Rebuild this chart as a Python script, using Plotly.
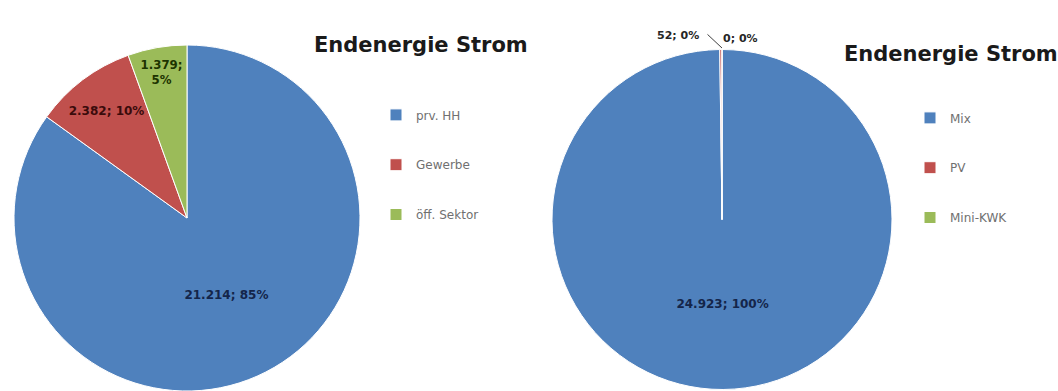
import plotly.graph_objects as go

# Final electricity consumption by sector
sector_names = ["prv. HH", "Gewerbe", "öff. Sektor"]
sector_values = [21214, 2382, 1379]
sector_labels = ["21.214; 85%", "2.382; 10%", "1.379;<br>5%"]

# Final electricity consumption by supply source
source_names = ["Mix", "PV", "Mini-KWK"]
source_values = [24923, 52, 0]
source_labels = ["24.923; 100%", "52; 0%", "0; 0%"]

title_text = "Endenergie Strom"

colors = ["#4F81BD", "#C0504D", "#9BBB59"]
label_colors = ["#14254a", "#3a0b0b", "#1d3300"]

W, H = 1058, 391


def legend_entry(name):
    # pad each legend label with blank lines so entries sit ~50px apart
    return " <br>" + name + "<br> "


def bold(s):
    return "<b>" + s + "</b>"


fig = go.Figure()

fig.add_trace(go.Pie(
    labels=[legend_entry(n) for n in sector_names],
    values=sector_values,
    text=[bold(s) for s in sector_labels],
    textinfo="text",
    textposition="inside",
    insidetextorientation="horizontal",
    textfont=dict(family="DejaVu Sans", size=12, color=label_colors),
    customdata=sector_names,
    hovertemplate="%{customdata}: %{value}<extra></extra>",
    marker=dict(colors=colors, line=dict(color="white", width=1)),
    sort=False,
    direction="clockwise",
    rotation=0,
    domain=dict(x=[13 / W, 361 / W], y=[0, 1 - 45 / H]),
    legend="legend",
))

fig.add_trace(go.Pie(
    labels=[legend_entry(n) for n in source_names],
    values=source_values,
    text=[bold(source_labels[0]), "", ""],
    textinfo="text",
    textposition="inside",
    insidetextorientation="horizontal",
    textfont=dict(family="DejaVu Sans", size=12, color=label_colors[0]),
    customdata=source_names,
    hovertemplate="%{customdata}: %{value}<extra></extra>",
    marker=dict(colors=colors, line=dict(color="white", width=1)),
    sort=False,
    direction="clockwise",
    rotation=0,
    domain=dict(x=[552 / W, 892 / W], y=[0, 1 - 48 / H]),
    legend="legend2",
))

legend_style = dict(
    font=dict(family="DejaVu Sans", size=12, color="#707070"),
    bgcolor="rgba(0,0,0,0)",
    xanchor="left",
    yanchor="top",
    tracegroupgap=0,
)

small_font = dict(family="DejaVu Sans", size=11, color="#262626")

# labels of the two tiny slices of the supply pie, one with a leader line
small_ann = [
    dict(text=bold(source_labels[1]), x=678 / W, y=1 - 27 / H, showarrow=False),
    dict(text="", x=722 / W, y=1 - 48 / H, showarrow=True,
         ax=-16, ay=-15, arrowhead=0, arrowwidth=1, arrowcolor="#404040",
         standoff=0, startstandoff=0),
    dict(text=bold(source_labels[2]), x=740 / W, y=1 - 30 / H, showarrow=False),
]
for a in small_ann:
    a.update(xref="paper", yref="paper", xanchor="center", font=small_font)

title_font = dict(family="DejaVu Sans", size=21, color="#1a1a1a")

fig.update_layout(
    width=W,
    height=H,
    margin=dict(l=0, r=0, t=0, b=0),
    paper_bgcolor="white",
    plot_bgcolor="white",
    showlegend=True,
    legend=dict(x=376 / W, y=1 - 85 / H, **legend_style),
    legend2=dict(x=910 / W, y=1 - 88 / H, **legend_style),
    annotations=[
        dict(text=bold(title_text), x=421 / W, y=1 - 31 / H,
             xref="paper", yref="paper", xanchor="center", showarrow=False,
             font=title_font),
        dict(text=bold(title_text), x=951 / W, y=1 - 40 / H,
             xref="paper", yref="paper", xanchor="center", showarrow=False,
             font=title_font),
    ] + small_ann,
)

fig.write_html("out.html")
